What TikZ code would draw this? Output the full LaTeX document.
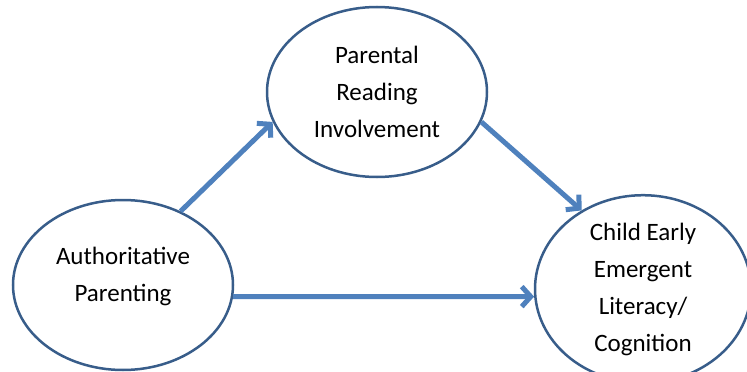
\documentclass[tikz,border=0pt]{standalone}
\usepackage{fontspec}
\setmainfont{Carlito}
\usetikzlibrary{shapes,arrows.meta}

\definecolor{arrowblue}{HTML}{4F81BD}
\definecolor{rimblue}{HTML}{385D8A}

\begin{document}
\begin{tikzpicture}[->, x=1pt, y=-1pt,
  factor/.style={ellipse, draw=rimblue, line width=2.5pt, fill=white, align=center, inner sep=0pt, font=\fontsize{25}{37}\selectfont},
  link/.style={draw=arrowblue, line width=5pt, -{Straight Barb[length=9pt,width=20pt]}}]
      \useasboundingbox (0,0) rectangle (747,372);
      \node [factor, minimum width=220pt, minimum height=170pt, text depth=22pt] (auth) at (123,285) {Authoritative\\Parenting};
      \node [factor, minimum width=220pt, minimum height=170pt] (read) at (377,92) {Parental\\Reading\\Involvement};
      \node [factor, minimum width=216pt, minimum height=166pt] (child) at (643,289) {Child Early\\Emergent\\Literacy/\\Cognition};
      \path
      (auth.52.8) edge [link] (read.196.4)
      (read.344) edge [link] (child.128.3)
      (auth.-6.3) edge [link] (child.184.3)
      ;
\end{tikzpicture}
\end{document}
